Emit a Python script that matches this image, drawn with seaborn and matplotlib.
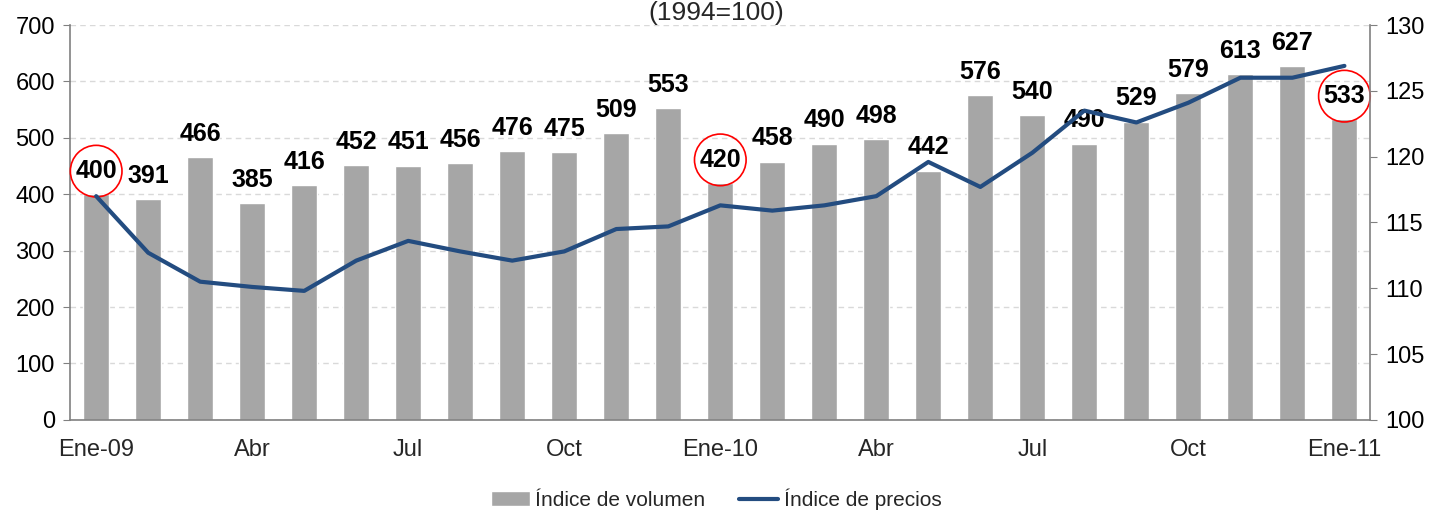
import matplotlib
matplotlib.use("Agg")
import matplotlib.pyplot as plt
import seaborn as sns
import numpy as np
import pandas as pd

# datos
meses = ["Ene-09", "Feb-09", "Mar-09", "Abr-09", "May-09", "Jun-09", "Jul-09", "Ago-09",
         "Sep-09", "Oct-09", "Nov-09", "Dic-09", "Ene-10", "Feb-10", "Mar-10", "Abr-10",
         "May-10", "Jun-10", "Jul-10", "Ago-10", "Sep-10", "Oct-10", "Nov-10", "Dic-10", "Ene-11"]
volumen = [400, 391, 466, 385, 416, 452, 451, 456, 476, 475, 509, 553,
           420, 458, 490, 498, 442, 576, 540, 490, 529, 579, 613, 627, 533]
precios = [117.0, 112.7, 110.5, 110.1, 109.8, 112.1, 113.6, 112.8, 112.1, 112.8, 114.5, 114.7,
           116.3, 115.9, 116.3, 117.0, 119.6, 117.7, 120.3, 123.5, 122.6, 124.1, 126.0, 126.0, 126.9]
etiquetas_x = ["Ene-09", "Abr", "Jul", "Oct", "Ene-10", "Abr", "Jul", "Oct", "Ene-11"]
marcados = [0, 12, 24]  # etiquetas con círculo rojo

sns.set_style("white")
plt.rcParams['font.family'] = ['Liberation Sans Narrow', 'Liberation Sans', 'DejaVu Sans']

df = pd.DataFrame({"mes": meses, "volumen": volumen, "precios": precios,
                   "pos": np.arange(len(meses))})

fig = plt.figure(figsize=(14.32, 5.12), dpi=100)
ax = fig.add_axes([0.049, 0.180, 0.908, 0.771])

sns.barplot(data=df, x="mes", y="volumen", color="#A6A6A6", saturation=1,
            width=0.5, ax=ax, label="Índice de volumen")
ax.set_ylim(0, 700)
ax.set_yticks(range(0, 701, 100))
ax.set_xlim(-0.5, len(meses) - 0.5)
ax.yaxis.grid(True, linestyle=(0, (4, 3)), color="#D9D9D9", linewidth=1)
ax.set_axisbelow(True)

# etiquetas de valor
for i, v in enumerate(volumen):
    kw = {}
    if i in marcados:
        kw["bbox"] = dict(boxstyle="circle,pad=0.2", fc="none", ec="red", lw=1.2)
    ax.annotate(str(v), (i, v), xytext=(0, 8), textcoords="offset points",
                ha="center", va="bottom", fontsize=18, fontweight="bold", color="black", **kw)

ax2 = ax.twinx()
sns.lineplot(data=df, x="pos", y="precios", color="#234C80", linewidth=3, ax=ax2,
             label="Índice de precios", legend=False)
ax2.set_ylim(100, 130)
ax2.set_yticks(range(100, 131, 5))
ax2.set_xlim(-0.5, len(meses) - 0.5)

# ejes
for a in (ax, ax2):
    a.set_xlabel("")
    a.set_ylabel("")
    a.spines["top"].set_visible(False)
    for s in ("left", "right", "bottom"):
        a.spines[s].set_color("#808080")
        a.spines[s].set_linewidth(1.2)
    a.tick_params(axis="y", labelsize=17, colors="black", length=5, color="#808080",
                  direction="out")
ax.spines["right"].set_visible(False)
ax2.spines["left"].set_visible(False)
ax2.spines["bottom"].set_visible(False)
ax.tick_params(axis="y", pad=6)
ax2.tick_params(axis="y", pad=6)

ax.set_xticks(np.arange(0, len(meses), 3))
ax.set_xticklabels(etiquetas_x, fontsize=17)
ax.set_xticks(np.arange(-0.5, len(meses), 1), minor=True)
ax.tick_params(axis="x", which="major", length=0, pad=14)
ax.tick_params(axis="x", which="minor", length=5, color="#808080", direction="out")

# subtítulo arriba
fig.text(0.5, 1 - 20 / 512, "(1994=100)", ha="center", va="baseline", fontsize=19)

# leyenda
h1, l1 = ax.get_legend_handles_labels()
h2, l2 = ax2.get_legend_handles_labels()
if ax.get_legend() is not None:
    ax.get_legend().remove()
fig.legend(h1 + h2, l1 + l2, loc="center", bbox_to_anchor=(0.50, 0.025), ncol=2,
           frameon=False, fontsize=15, handlelength=1.9, handletextpad=0.25, columnspacing=1.6)

fig.savefig("out.png", dpi=100)
